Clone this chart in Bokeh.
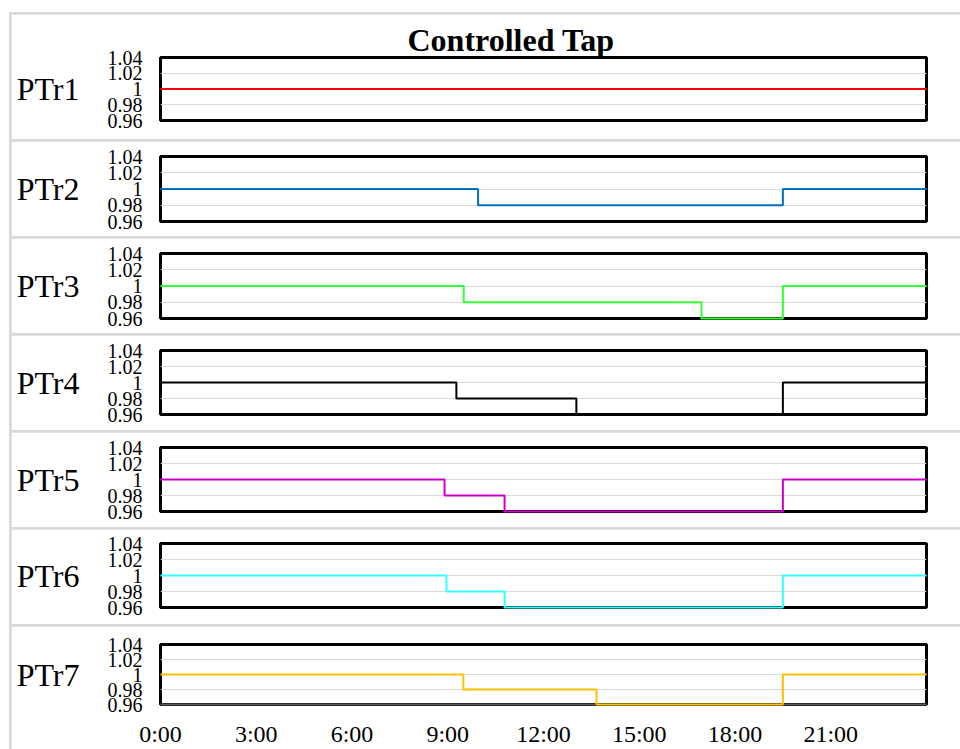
from bokeh.plotting import figure
from bokeh.layouts import column
from bokeh.models import Range1d, FixedTicker
from bokeh.embed import file_html
from bokeh.resources import INLINE

# ---- data (hours of day, tap ratio) ----
names = ["PTr1", "PTr2", "PTr3", "PTr4", "PTr5", "PTr6", "PTr7"]
colors = ["#FF0000", "#0070C0", "#33FF33", "#000000", "#CC00CC", "#33FFFF", "#FFC000"]

ptr1_t = [0.0, 24.0]
ptr1_v = [1.0, 1.0]
ptr2_t = [0.0, 9.95, 19.5, 24.0]
ptr2_v = [1.0, 0.98, 1.0, 1.0]
ptr3_t = [0.0, 9.5, 16.95, 19.5, 24.0]
ptr3_v = [1.0, 0.98, 0.96, 1.0, 1.0]
ptr4_t = [0.0, 9.27, 13.03, 19.5, 24.0]
ptr4_v = [1.0, 0.98, 0.96, 1.0, 1.0]
ptr5_t = [0.0, 8.9, 10.78, 19.5, 24.0]
ptr5_v = [1.0, 0.98, 0.96, 1.0, 1.0]
ptr6_t = [0.0, 8.96, 10.78, 19.5, 24.0]
ptr6_v = [1.0, 0.98, 0.96, 1.0, 1.0]
ptr7_t = [0.0, 9.49, 13.66, 19.5, 24.0]
ptr7_v = [1.0, 0.98, 0.96, 1.0, 1.0]

series_t = [ptr1_t, ptr2_t, ptr3_t, ptr4_t, ptr5_t, ptr6_t, ptr7_t]
series_v = [ptr1_v, ptr2_v, ptr3_v, ptr4_v, ptr5_v, ptr6_v, ptr7_v]

y_ticks = [0.96, 0.98, 1.0, 1.02, 1.04]
y_tick_labels = ["0.96", "0.98", "1", "1.02", "1.04"]
x_ticks = [0, 3, 6, 9, 12, 15, 18, 21]
x_tick_labels = ["0:00", "3:00", "6:00", "9:00", "12:00", "15:00", "18:00", "21:00"]

FONT = "Liberation Serif"
W = 949
LEFT = 149
RIGHT = W - LEFT - 766

# (figure height, frame top offset, frame height)
dims = [(125, 43, 63), (95, 15, 65), (95, 15, 65), (95, 15, 64),
        (95, 15, 64), (95, 14, 64), (123, 18, 63)]

figs = []
for i, name in enumerate(names):
    h, top, fh = dims[i]
    last = i == len(names) - 1
    p = figure(width=W, height=h, output_backend="svg", toolbar_location=None,
               x_range=Range1d(0, 24), y_range=Range1d(0.96, 1.04),
               x_axis_location="below" if last else None,
               min_border_left=LEFT, min_border_right=RIGHT,
               min_border_top=top, min_border_bottom=h - top - fh,
               background_fill_color="white", border_fill_color="white")
    p.outline_line_color = "black"
    p.outline_line_width = 3
    p.xgrid.visible = False
    p.ygrid.ticker = FixedTicker(ticks=y_ticks)
    p.ygrid.grid_line_color = "#d9d9d9"
    p.ygrid.grid_line_width = 1

    ya = p.yaxis[0]
    ya.ticker = FixedTicker(ticks=y_ticks)
    ya.major_label_overrides = dict(zip(y_ticks, y_tick_labels))
    ya.major_label_text_font = FONT
    ya.major_label_text_font_size = "20px"
    ya.major_label_text_color = "black"
    ya.major_tick_out = 0
    ya.major_tick_in = 0
    ya.minor_tick_out = 0
    ya.minor_tick_in = 0
    ya.axis_line_color = None
    ya.major_label_standoff = 18
    ya.axis_label = name
    ya.axis_label_orientation = "horizontal"
    ya.axis_label_text_font = FONT
    ya.axis_label_text_font_size = "32px"
    ya.axis_label_text_font_style = "normal"
    ya.axis_label_text_color = "black"
    ya.axis_label_standoff = 25

    if last:
        xa = p.xaxis[0]
        xa.ticker = FixedTicker(ticks=x_ticks)
        xa.major_label_overrides = dict(zip(x_ticks, x_tick_labels))
        xa.major_label_text_font = FONT
        xa.major_label_text_font_size = "24px"
        xa.major_label_text_color = "black"
        xa.major_tick_out = 0
        xa.major_tick_in = 0
        xa.minor_tick_out = 0
        xa.minor_tick_in = 0
        xa.axis_line_color = "#595959"
        xa.axis_line_width = 2
        xa.major_label_standoff = 16

    if i == 0:
        p.title.text = "Controlled Tap"
        p.title.text_font = FONT
        p.title.text_font_size = "32px"
        p.title.text_font_style = "bold"
        p.title.text_color = "black"
        p.title.align = "left"
        p.title.offset = 247
        p.title.standoff = 0

    p.step(series_t[i], series_v[i], mode="after", line_color=colors[i],
           line_width=2, level="overlay")
    figs.append(p)

root = column(*figs, spacing=2,
              styles={"background-color": "#d9d9d9", "padding": "2px 0px 0px 2px",
                      "margin-left": "9px", "margin-top": "12px"})

open("out.html", "w").write(file_html(root, INLINE))
